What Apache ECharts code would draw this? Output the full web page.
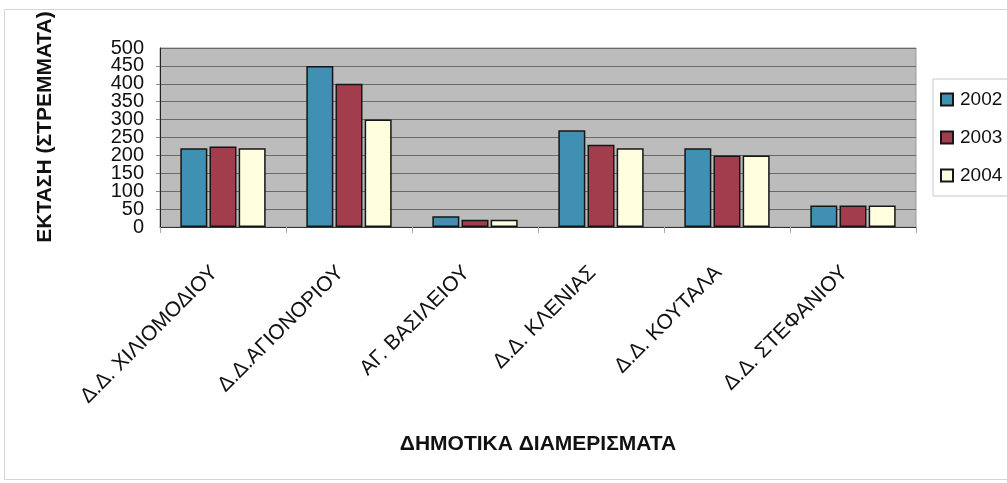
<!DOCTYPE html>
<html>
<head>
<meta charset="utf-8">
<script src="https://cdn.jsdelivr.net/npm/echarts@6/dist/echarts.min.js"></script>
<style>
  html, body { margin: 0; padding: 0; background: #ffffff; }
  #chart { width: 1007px; height: 483px; }
</style>
</head>
<body>
<div id="chart"></div>
<script>
// Έκταση ανά δημοτικό διαμέρισμα (στρέμματα)
const categories = [
  'Δ.Δ. ΧΙΛΙΟΜΟΔΙΟΥ',
  'Δ.Δ.ΑΓΙΟΝΟΡΙΟΥ',
  'ΑΓ. ΒΑΣΙΛΕΙΟΥ',
  'Δ.Δ. ΚΛΕΝΙΑΣ',
  'Δ.Δ. ΚΟΥΤΑΛΑ',
  'Δ.Δ. ΣΤΕΦΑΝΙΟΥ'
];
const years = ['2002', '2003', '2004'];
const values2002 = [220, 450, 30, 270, 220, 60];
const values2003 = [225, 400, 20, 230, 200, 60];
const values2004 = [220, 300, 20, 220, 200, 60];
const yTicks = [0, 50, 100, 150, 200, 250, 300, 350, 400, 450, 500];

const seriesValues = [values2002, values2003, values2004];
const seriesColors = ['#3f90b3', '#a13d4c', '#ffffe0'];

const FONT = '"Liberation Sans", Arial, sans-serif';
const yMin = yTicks[0];
const yMax = yTicks[yTicks.length - 1];
const yStep = yTicks[1] - yTicks[0];

// The tick labels are taller than their spacing, so they are split over two
// overlaid axes with the same scale: one labels 0,100,…,500, the other 50,150,…,450.
const yLabelStyle = {
  fontSize: 20,
  color: '#111',
  margin: 16,
  fontFamily: FONT,
  hideOverlap: false
};

const chart = echarts.init(document.getElementById('chart'), null, { renderer: 'canvas' });

chart.setOption({
  backgroundColor: '#ffffff',
  animation: false,
  textStyle: { fontFamily: FONT },
  graphic: [
    {
      type: 'rect',
      shape: { x: 4.5, y: 9.5, width: 1010, height: 470 },
      style: { fill: 'none', stroke: '#d4d4d4', lineWidth: 1 },
      silent: true
    },
    {
      type: 'text',
      x: 45,
      y: 127,
      rotation: Math.PI / 2,
      style: {
        text: 'ΕΚΤΑΣΗ (ΣΤΡΕΜΜΑΤΑ)',
        font: 'bold 21px ' + FONT,
        fill: '#111',
        align: 'center',
        verticalAlign: 'middle'
      },
      silent: true
    }
  ],
  grid: {
    left: 160,
    right: 91,
    top: 48,
    bottom: 256,
    show: true,
    backgroundColor: '#bcbcbc',
    borderColor: '#9a9a9a',
    borderWidth: 1
  },
  legend: {
    data: years,
    orient: 'vertical',
    left: 933,
    top: 79,
    padding: [11, 30, 11, 7],
    itemWidth: 12,
    itemHeight: 12,
    itemGap: 19,
    icon: 'rect',
    borderColor: '#c8c8c8',
    borderWidth: 1,
    backgroundColor: '#ffffff',
    textStyle: { fontSize: 19, color: '#111', fontFamily: FONT, padding: [0, 0, 0, 2] }
  },
  xAxis: {
    type: 'category',
    data: categories,
    name: 'ΔΗΜΟΤΙΚΑ ΔΙΑΜΕΡΙΣΜΑΤΑ',
    nameLocation: 'middle',
    nameGap: 207,
    nameTextStyle: { fontSize: 21, fontWeight: 'bold', color: '#111', fontFamily: FONT },
    axisLine: { lineStyle: { color: '#333', width: 1 } },
    axisTick: { show: true, alignWithLabel: false, length: 6, lineStyle: { color: '#aaa' } },
    axisLabel: {
      rotate: 45,
      interval: 0,
      margin: 34,
      fontSize: 21,
      color: '#111',
      fontFamily: FONT,
      padding: [0, 12, 0, 0]
    },
    splitLine: { show: false }
  },
  yAxis: [
    {
      type: 'value',
      position: 'left',
      min: yMin,
      max: yMax,
      interval: yStep * 2,
      axisLine: { show: true, lineStyle: { color: '#222', width: 1 } },
      axisTick: { show: false },
      axisLabel: Object.assign({}, yLabelStyle, { showMinLabel: true, showMaxLabel: true }),
      splitLine: { show: false }
    },
    {
      type: 'value',
      position: 'left',
      offset: 0,
      min: yMin,
      max: yMax,
      interval: yStep,
      axisLine: { show: false },
      axisTick: { show: true, length: 4, lineStyle: { color: '#888' } },
      axisLabel: Object.assign({}, yLabelStyle, {
        showMinLabel: false,
        showMaxLabel: false,
        formatter: (v) => (v % (yStep * 2) === yStep ? String(v) : '')
      }),
      splitLine: { show: true, lineStyle: { color: '#6a6a6a', width: 1 } }
    }
  ],
  series: years.map((y, i) => ({
    name: y,
    type: 'bar',
    yAxisIndex: 0,
    data: seriesValues[i],
    barWidth: 27,
    barGap: '8%',
    itemStyle: {
      color: seriesColors[i],
      borderColor: '#161616',
      borderWidth: 1.5
    }
  }))
});
</script>
</body>
</html>
